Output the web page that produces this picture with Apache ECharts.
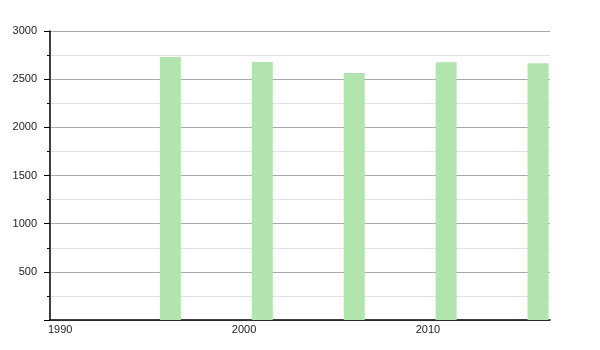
<!DOCTYPE html>
<html>
<head>
<meta charset="utf-8">
<script src="https://cdn.jsdelivr.net/npm/echarts@6/dist/echarts.min.js"></script>
<style>html,body{margin:0;padding:0;background:#fff}#c{width:600px;height:350px}</style>
</head>
<body>
<div id="c"></div>
<script>
var years = [1996, 2001, 2006, 2011, 2016];
var population = [2730, 2679, 2565, 2675, 2665];
var xTicks = [1990, 2000, 2010];
var yTicks = [0, 500, 1000, 1500, 2000, 2500, 3000];

var chart = echarts.init(document.getElementById('c'), null, {renderer: 'canvas'});
var data = years.map(function (y, i) { return [y + 0.55, population[i]]; });
chart.setOption({
  animation: false,
  grid: {left: 50, right: 50, top: 31, bottom: 30, containLabel: false},
  xAxis: {
    type: 'value', min: 1990, max: 2017.2, interval: 10,
    axisLine: {show: true, onZero: false, lineStyle: {color: '#000', width: 1.5}},
    axisTick: {show: false},
    splitLine: {show: false},
    axisLabel: {
      showMaxLabel: false, align: 'left', margin: 4, padding: [0, 0, 0, -2],
      fontFamily: 'Liberation Sans, Arial, sans-serif', fontSize: 11, color: '#222',
      formatter: function (v) { return xTicks.indexOf(v) >= 0 ? String(v) : ''; }
    }
  },
  yAxis: {
    type: 'value', min: yTicks[0], max: yTicks[yTicks.length - 1], interval: 500,
    axisLine: {show: true, lineStyle: {color: '#000', width: 1.5}},
    axisTick: {show: true, length: 6, lineStyle: {color: '#000'}},
    minorTick: {show: true, splitNumber: 2, length: 3, lineStyle: {color: '#000'}},
    splitLine: {show: true, lineStyle: {color: '#aaa', width: 1}},
    minorSplitLine: {show: true, lineStyle: {color: '#e2e2e2', width: 1}},
    axisLabel: {
      margin: 13, fontFamily: 'Liberation Sans, Arial, sans-serif', fontSize: 11, color: '#222',
      formatter: function (v) { return v === 0 ? '' : String(v); }
    }
  },
  series: [{
    type: 'bar', data: data, barWidth: 21,
    itemStyle: {color: '#b2e5ae'}
  }]
});
</script>
</body>
</html>
